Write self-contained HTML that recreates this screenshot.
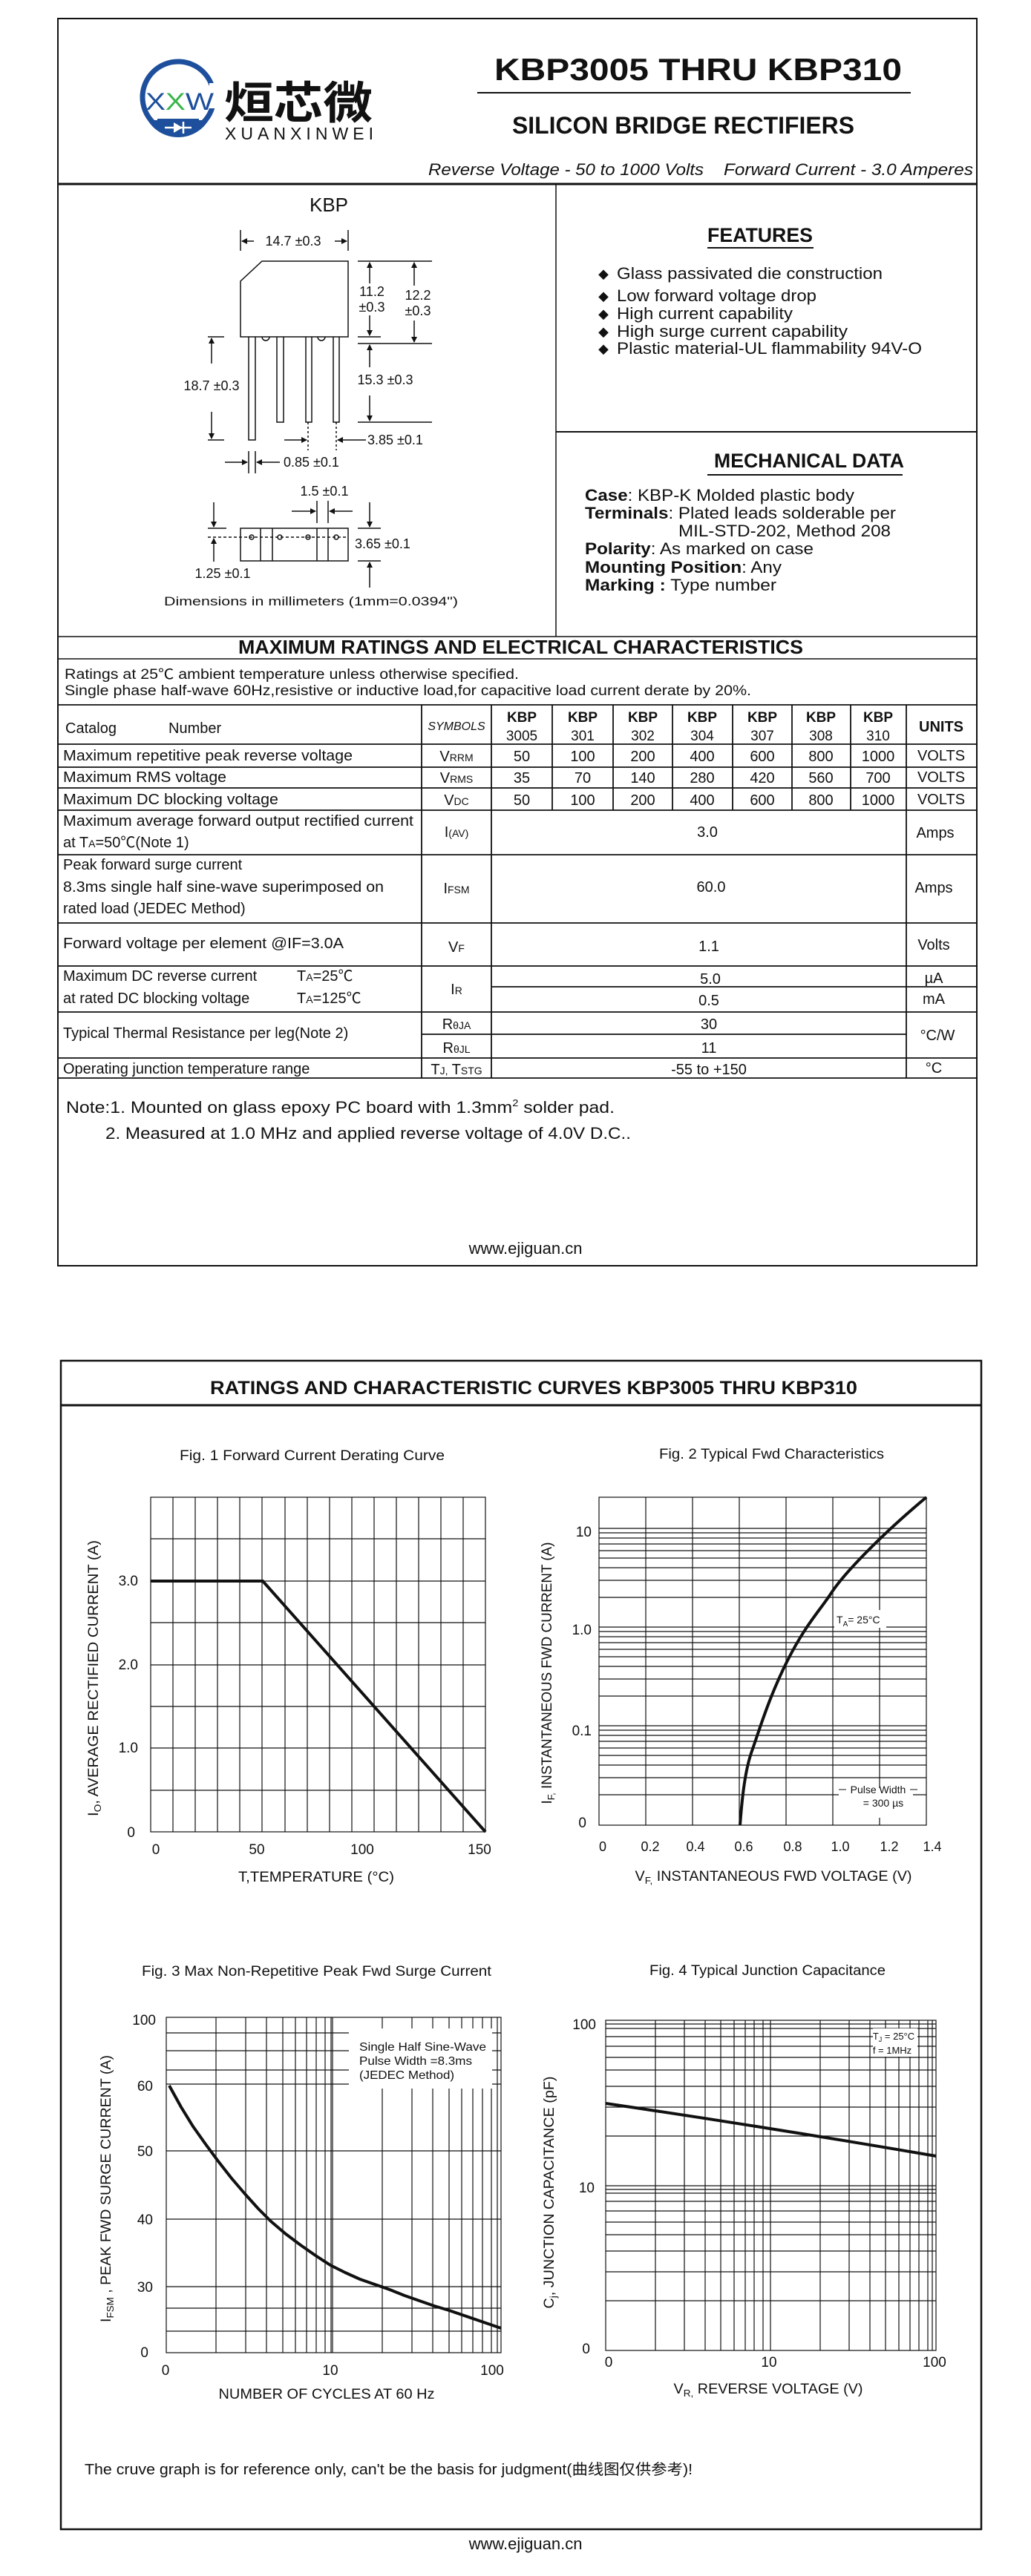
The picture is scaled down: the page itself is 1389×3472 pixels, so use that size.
<!DOCTYPE html>
<html><head><meta charset="utf-8"><style>
html,body{margin:0;padding:0;background:#fff;}
svg{display:block;}
text{font-family:"Liberation Sans","Noto Sans CJK SC",sans-serif;fill:#111;}
</style></head><body>
<svg width="1389" height="3472" viewBox="0 0 1389 3472" xmlns="http://www.w3.org/2000/svg">
<defs>
<marker id="ar" markerWidth="8" markerHeight="8" refX="7" refY="4" orient="auto" markerUnits="userSpaceOnUse"><path d="M0,0 L8,4 L0,8 z" fill="#111"/></marker>
</defs>
<!-- PAGE 1 -->
<rect x="78" y="25" width="1238" height="1681" fill="none" stroke="#111" stroke-width="2"/>
<!-- logo -->
<circle cx="240" cy="131" r="48" fill="none" stroke="#1d4f9c" stroke-width="7"/>
<path d="M199,162 A48,48 0 0 0 281,162 Z" fill="#1d4f9c"/>
<rect x="212" y="160" width="56" height="9" fill="#1d4f9c"/>
<line x1="222" y1="172" x2="258" y2="172" stroke="#fff" stroke-width="2.5"/>
<path d="M234,165 L234,179 L246,172 Z" fill="#fff"/>
<line x1="247" y1="164" x2="247" y2="180" stroke="#fff" stroke-width="2.5"/>
<rect x="282" y="112" width="12" height="34" fill="#fff"/>
<text x="196" y="148" font-size="32" style="fill:#1d4f9c" textLength="92" lengthAdjust="spacingAndGlyphs">X<tspan style="fill:#39b54a">X</tspan>W</text>
<text x="302" y="160" font-size="60" font-weight="bold" style="font-family:'Noto Sans CJK SC',sans-serif" textLength="200" lengthAdjust="spacingAndGlyphs">烜芯微</text>
<text x="303" y="188" font-size="23" textLength="200" lengthAdjust="spacing">XUANXINWEI</text>
<!-- title -->
<text x="666" y="108" font-size="42" font-weight="bold" textLength="549" lengthAdjust="spacingAndGlyphs">KBP3005 THRU KBP310</text>
<line x1="643" y1="125" x2="1227" y2="125" stroke="#111" stroke-width="2"/>
<text x="690" y="180" font-size="32" font-weight="bold" textLength="461" lengthAdjust="spacingAndGlyphs">SILICON BRIDGE RECTIFIERS</text>
<text x="577" y="236" font-size="22" font-style="italic" textLength="371" lengthAdjust="spacingAndGlyphs">Reverse Voltage - 50 to 1000 Volts</text>
<text x="975" y="236" font-size="22" font-style="italic" textLength="336" lengthAdjust="spacingAndGlyphs">Forward Current -  3.0 Amperes</text>
<line x1="78" y1="248" x2="1316" y2="248" stroke="#111" stroke-width="3"/>
<line x1="749" y1="248" x2="749" y2="858" stroke="#111" stroke-width="1.5"/>
<line x1="749" y1="582" x2="1316" y2="582" stroke="#111" stroke-width="2"/>
<line x1="78" y1="858" x2="1316" y2="858" stroke="#111" stroke-width="1.5"/>
<!-- KBP drawing -->
<text x="443" y="285" font-size="26" text-anchor="middle">KBP</text>
<g stroke="#111" stroke-width="1.5" fill="none">
<path d="M353,352 L469,352 L469,454 L324,454 L324,379 Z"/>
<path d="M335,454 V593 H344 V454 M373,454 V569 H382 V454 M412,454 V569 H420 V454 M449,454 V569 H457 V454"/>
<path d="M353,454 A5,5 0 0 0 363,454 M428,454 A5,5 0 0 0 438,454"/>
<line x1="324" y1="310" x2="324" y2="338"/><line x1="469" y1="310" x2="469" y2="338"/>
<line x1="342" y1="325" x2="326" y2="325" marker-end="url(#ar)"/><line x1="451" y1="325" x2="467" y2="325" marker-end="url(#ar)"/>
<line x1="482" y1="352" x2="582" y2="352"/><line x1="482" y1="454" x2="513" y2="454"/><line x1="482" y1="463" x2="582" y2="463"/><line x1="482" y1="569" x2="582" y2="569"/>
<line x1="498" y1="382" x2="498" y2="354" marker-end="url(#ar)"/><line x1="498" y1="425" x2="498" y2="452" marker-end="url(#ar)"/>
<line x1="558" y1="385" x2="558" y2="354" marker-end="url(#ar)"/><line x1="558" y1="432" x2="558" y2="461" marker-end="url(#ar)"/>
<line x1="498" y1="495" x2="498" y2="465" marker-end="url(#ar)"/><line x1="498" y1="533" x2="498" y2="567" marker-end="url(#ar)"/>
<line x1="280" y1="454" x2="302" y2="454"/><line x1="280" y1="593" x2="302" y2="593"/>
<line x1="285" y1="490" x2="285" y2="456" marker-end="url(#ar)"/><line x1="285" y1="555" x2="285" y2="591" marker-end="url(#ar)"/>
<line x1="415" y1="569" x2="415" y2="607" stroke-dasharray="3,3"/><line x1="453" y1="569" x2="453" y2="607" stroke-dasharray="3,3"/>
<line x1="383" y1="593" x2="413" y2="593" marker-end="url(#ar)"/><line x1="493" y1="593" x2="455" y2="593" marker-end="url(#ar)"/>
<line x1="335" y1="608" x2="335" y2="638"/><line x1="344" y1="608" x2="344" y2="638"/>
<line x1="303" y1="623" x2="333" y2="623" marker-end="url(#ar)"/><line x1="377" y1="623" x2="346" y2="623" marker-end="url(#ar)"/>
<line x1="427" y1="675" x2="427" y2="705"/><line x1="442" y1="675" x2="442" y2="705"/>
<line x1="393" y1="689" x2="425" y2="689" marker-end="url(#ar)"/><line x1="475" y1="689" x2="444" y2="689" marker-end="url(#ar)"/>
<rect x="324" y="712" width="145" height="44"/>
<path d="M351,712 V756 M367,712 V756 M427,712 V756 M442,712 V756"/>
<line x1="280" y1="724" x2="469" y2="724" stroke-dasharray="4,3"/>
<circle cx="339" cy="724" r="3"/><circle cx="377" cy="724" r="3"/><circle cx="415" cy="724" r="3"/><circle cx="453" cy="724" r="3"/>
<line x1="482" y1="712" x2="513" y2="712"/><line x1="482" y1="756" x2="513" y2="756"/>
<line x1="498" y1="677" x2="498" y2="710" marker-end="url(#ar)"/><line x1="498" y1="792" x2="498" y2="758" marker-end="url(#ar)"/>
<line x1="280" y1="712" x2="305" y2="712"/>
<line x1="288" y1="677" x2="288" y2="710" marker-end="url(#ar)"/><line x1="288" y1="757" x2="288" y2="726" marker-end="url(#ar)"/>
</g>
<g font-size="18">
<text x="395" y="331" text-anchor="middle">14.7 ±0.3</text>
<text x="501" y="399" text-anchor="middle">11.2</text><text x="501" y="420" text-anchor="middle">±0.3</text>
<text x="563" y="404" text-anchor="middle">12.2</text><text x="563" y="425" text-anchor="middle">±0.3</text>
<text x="285" y="526" text-anchor="middle">18.7 ±0.3</text>
<text x="519" y="518" text-anchor="middle">15.3 ±0.3</text>
<text x="495" y="599">3.85 ±0.1</text>
<text x="382" y="629">0.85 ±0.1</text>
<text x="437" y="668" text-anchor="middle">1.5 ±0.1</text>
<text x="478" y="739">3.65 ±0.1</text>
<text x="300" y="779" text-anchor="middle">1.25 ±0.1</text>
<text x="221" y="816" font-size="17" textLength="396" lengthAdjust="spacingAndGlyphs">Dimensions in millimeters (1mm=0.0394")</text>
</g>
<!-- features -->
<text x="953" y="326" font-size="27" font-weight="bold" textLength="142" lengthAdjust="spacingAndGlyphs">FEATURES</text>
<line x1="953" y1="334" x2="1096" y2="334" stroke="#111" stroke-width="2"/>
<g font-size="22">
<text x="806" y="376" font-size="14">◆</text><text x="831" y="376" textLength="358" lengthAdjust="spacingAndGlyphs">Glass passivated die construction</text>
<text x="806" y="406" font-size="14">◆</text><text x="831" y="406" textLength="269" lengthAdjust="spacingAndGlyphs">Low forward voltage drop</text>
<text x="806" y="430" font-size="14">◆</text><text x="831" y="430" textLength="237" lengthAdjust="spacingAndGlyphs">High current capability</text>
<text x="806" y="454" font-size="14">◆</text><text x="831" y="454" textLength="311" lengthAdjust="spacingAndGlyphs">High  surge current capability</text>
<text x="806" y="477" font-size="14">◆</text><text x="831" y="477" textLength="411" lengthAdjust="spacingAndGlyphs">Plastic material-UL flammability 94V-O</text>
</g>
<text x="962" y="630" font-size="27" font-weight="bold" textLength="256" lengthAdjust="spacingAndGlyphs">MECHANICAL DATA</text>
<line x1="953" y1="640" x2="1216" y2="640" stroke="#111" stroke-width="2"/>
<g font-size="22">
<text x="788" y="675" textLength="363" lengthAdjust="spacingAndGlyphs"><tspan font-weight="bold">Case</tspan>: KBP-K Molded plastic body</text>
<text x="788" y="699" textLength="419" lengthAdjust="spacingAndGlyphs"><tspan font-weight="bold">Terminals</tspan>: Plated leads solderable per</text>
<text x="914" y="723" textLength="286" lengthAdjust="spacingAndGlyphs">MIL-STD-202, Method 208</text>
<text x="788" y="747" textLength="308" lengthAdjust="spacingAndGlyphs"><tspan font-weight="bold">Polarity</tspan>: As marked on case</text>
<text x="788" y="772" textLength="265" lengthAdjust="spacingAndGlyphs"><tspan font-weight="bold">Mounting Position</tspan>: Any</text>
<text x="788" y="796" textLength="258" lengthAdjust="spacingAndGlyphs"><tspan font-weight="bold">Marking :</tspan> Type number</text>
</g>
<!-- ratings table -->
<text x="321" y="881" font-size="26" font-weight="bold" textLength="761" lengthAdjust="spacingAndGlyphs">MAXIMUM RATINGS AND ELECTRICAL CHARACTERISTICS</text>
<line x1="78" y1="888" x2="1316" y2="888" stroke="#111" stroke-width="1.5"/>
<text x="87" y="915" font-size="19" textLength="612" lengthAdjust="spacingAndGlyphs">Ratings at 25℃ ambient temperature unless otherwise specified.</text>
<text x="87" y="937" font-size="19" textLength="925" lengthAdjust="spacingAndGlyphs">Single phase half-wave 60Hz,resistive or inductive load,for capacitive load current derate by 20%.</text>
<g stroke="#111" stroke-width="1.8" fill="none">
<line x1="78" y1="950" x2="1316" y2="950"/>
<line x1="78" y1="1003" x2="1316" y2="1003"/>
<line x1="78" y1="1034" x2="1316" y2="1034"/>
<line x1="78" y1="1062" x2="1316" y2="1062"/>
<line x1="78" y1="1092" x2="1316" y2="1092"/>
<line x1="78" y1="1152" x2="1316" y2="1152"/>
<line x1="78" y1="1244" x2="1316" y2="1244"/>
<line x1="78" y1="1302" x2="1316" y2="1302"/>
<line x1="662" y1="1330" x2="1316" y2="1330"/>
<line x1="78" y1="1364" x2="1316" y2="1364"/>
<line x1="568" y1="1394" x2="1221" y2="1394"/>
<line x1="78" y1="1426" x2="1316" y2="1426"/>
<line x1="78" y1="1453" x2="1316" y2="1453"/>
<line x1="568" y1="950" x2="568" y2="1453"/>
<line x1="662" y1="950" x2="662" y2="1453"/>
<line x1="1221" y1="950" x2="1221" y2="1453"/>
<path d="M744,950 V1092 M826,950 V1092 M906,950 V1092 M987,950 V1092 M1067,950 V1092 M1146,950 V1092"/>
</g>
<g font-size="20">
<text x="88" y="988">Catalog</text><text x="227" y="988">Number</text>
<text x="615" y="984" font-size="16" font-style="italic" text-anchor="middle">SYMBOLS</text>
<g text-anchor="middle" font-size="19">
<text x="703" y="973" font-weight="bold">KBP</text><text x="703" y="998">3005</text>
<text x="785" y="973" font-weight="bold">KBP</text><text x="785" y="998">301</text>
<text x="866" y="973" font-weight="bold">KBP</text><text x="866" y="998">302</text>
<text x="946" y="973" font-weight="bold">KBP</text><text x="946" y="998">304</text>
<text x="1027" y="973" font-weight="bold">KBP</text><text x="1027" y="998">307</text>
<text x="1106" y="973" font-weight="bold">KBP</text><text x="1106" y="998">308</text>
<text x="1183" y="973" font-weight="bold">KBP</text><text x="1183" y="998">310</text>
</g>
<text x="1268" y="986" font-weight="bold" text-anchor="middle">UNITS</text>
<text x="85" y="1025" textLength="390" lengthAdjust="spacingAndGlyphs">Maximum repetitive peak reverse voltage</text>
<text x="85" y="1054" textLength="220" lengthAdjust="spacingAndGlyphs">Maximum RMS voltage</text>
<text x="85" y="1084" textLength="290" lengthAdjust="spacingAndGlyphs">Maximum DC blocking voltage</text>
<text x="615" y="1026" text-anchor="middle">V<tspan font-size="14">RRM</tspan></text>
<text x="615" y="1055" text-anchor="middle">V<tspan font-size="14">RMS</tspan></text>
<text x="615" y="1085" text-anchor="middle">V<tspan font-size="14">DC</tspan></text>
<g text-anchor="middle">
<text x="703" y="1026">50</text><text x="785" y="1026">100</text><text x="866" y="1026">200</text><text x="946" y="1026">400</text><text x="1027" y="1026">600</text><text x="1106" y="1026">800</text><text x="1183" y="1026">1000</text><text x="1268" y="1025">VOLTS</text>
<text x="703" y="1055">35</text><text x="785" y="1055">70</text><text x="866" y="1055">140</text><text x="946" y="1055">280</text><text x="1027" y="1055">420</text><text x="1106" y="1055">560</text><text x="1183" y="1055">700</text><text x="1268" y="1054">VOLTS</text>
<text x="703" y="1085">50</text><text x="785" y="1085">100</text><text x="866" y="1085">200</text><text x="946" y="1085">400</text><text x="1027" y="1085">600</text><text x="1106" y="1085">800</text><text x="1183" y="1085">1000</text><text x="1268" y="1084">VOLTS</text>
</g>
<text x="85" y="1113" textLength="472" lengthAdjust="spacingAndGlyphs">Maximum average forward output rectified current</text>
<text x="85" y="1142">at T<tspan font-size="14">A</tspan>=50℃(Note 1)</text>
<text x="615" y="1128" text-anchor="middle">I<tspan font-size="14">(AV)</tspan></text>
<text x="953" y="1128" text-anchor="middle">3.0</text>
<text x="1260" y="1129" text-anchor="middle">Amps</text>
<text x="85" y="1172">Peak forward surge current</text>
<text x="85" y="1202" textLength="432" lengthAdjust="spacingAndGlyphs">8.3ms single half sine-wave superimposed on</text>
<text x="85" y="1231">rated load (JEDEC Method)</text>
<text x="615" y="1204" text-anchor="middle">I<tspan font-size="14">FSM</tspan></text>
<text x="958" y="1202" text-anchor="middle">60.0</text>
<text x="1258" y="1203" text-anchor="middle">Amps</text>
<text x="85" y="1278" textLength="378" lengthAdjust="spacingAndGlyphs">Forward voltage per element  @IF=3.0A</text>
<text x="615" y="1283" text-anchor="middle">V<tspan font-size="14">F</tspan></text>
<text x="955" y="1282" text-anchor="middle">1.1</text>
<text x="1258" y="1280" text-anchor="middle">Volts</text>
<text x="85" y="1322">Maximum DC reverse current</text>
<text x="400" y="1322">T<tspan font-size="14">A</tspan>=25℃</text>
<text x="85" y="1352">at rated DC blocking voltage</text>
<text x="400" y="1352">T<tspan font-size="14">A</tspan>=125℃</text>
<text x="615" y="1340" text-anchor="middle">I<tspan font-size="14">R</tspan></text>
<text x="957" y="1326" text-anchor="middle">5.0</text>
<text x="955" y="1355" text-anchor="middle">0.5</text>
<text x="1258" y="1325" text-anchor="middle">µA</text>
<text x="1258" y="1353" text-anchor="middle">mA</text>
<text x="85" y="1399">Typical Thermal Resistance per leg(Note 2)</text>
<text x="615" y="1387" text-anchor="middle">R<tspan font-size="14">θJA</tspan></text>
<text x="615" y="1419" text-anchor="middle">R<tspan font-size="14">θJL</tspan></text>
<text x="955" y="1387" text-anchor="middle">30</text>
<text x="955" y="1419" text-anchor="middle">11</text>
<text x="1263" y="1402" text-anchor="middle">°C/W</text>
<text x="85" y="1447">Operating junction temperature range</text>
<text x="615" y="1448" text-anchor="middle">T<tspan font-size="14">J,</tspan> T<tspan font-size="14">STG</tspan></text>
<text x="955" y="1448" text-anchor="middle">-55 to +150</text>
<text x="1258" y="1446" text-anchor="middle">°C</text>
</g>
<text x="89" y="1500" font-size="22" textLength="739" lengthAdjust="spacingAndGlyphs">Note:1. Mounted on  glass epoxy  PC board with 1.3mm<tspan font-size="13" dy="-9">2</tspan><tspan dy="9"> solder pad.</tspan></text>
<text x="142" y="1535" font-size="22" textLength="708" lengthAdjust="spacingAndGlyphs">2. Measured at 1.0 MHz and applied reverse voltage of 4.0V D.C..</text>
<text x="708" y="1690" font-size="22" text-anchor="middle">www.ejiguan.cn</text>

<!-- PAGE 2 -->
<rect x="82" y="1834" width="1240" height="1575" fill="none" stroke="#111" stroke-width="2.5"/>
<text x="283" y="1879" font-size="25" font-weight="bold" textLength="872" lengthAdjust="spacingAndGlyphs">RATINGS AND CHARACTERISTIC CURVES KBP3005 THRU KBP310</text>
<line x1="82" y1="1894" x2="1322" y2="1894" stroke="#111" stroke-width="3"/>

<!-- Fig 1 -->
<text x="242" y="1968" font-size="19" textLength="357" lengthAdjust="spacingAndGlyphs">Fig. 1 Forward Current Derating Curve</text>
<g stroke="#111" stroke-width="1.2">
<rect x="203" y="2018" width="451" height="451" fill="none"/>
<path d="M233,2018V2469 M263,2018V2469 M293,2018V2469 M323,2018V2469 M353,2018V2469 M384,2018V2469 M414,2018V2469 M444,2018V2469 M474,2018V2469 M504,2018V2469 M534,2018V2469 M564,2018V2469 M594,2018V2469 M624,2018V2469"/>
<path d="M203,2074H654 M203,2131H654 M203,2187H654 M203,2244H654 M203,2300H654 M203,2356H654 M203,2413H654"/>
</g>
<polyline points="203,2131 354,2131 654,2469" fill="none" stroke="#111" stroke-width="4"/>
<g font-size="19" text-anchor="end">
<text x="186" y="2137">3.0</text><text x="186" y="2250">2.0</text><text x="186" y="2362">1.0</text><text x="182" y="2476">0</text>
</g>
<g font-size="19" text-anchor="middle">
<text x="210" y="2499">0</text><text x="346" y="2499">50</text><text x="488" y="2499">100</text><text x="646" y="2499">150</text>
<text x="426" y="2536" textLength="210" lengthAdjust="spacingAndGlyphs">T,TEMPERATURE (°C)</text>
</g>
<text transform="translate(132,2262) rotate(-90)" font-size="19" text-anchor="middle" textLength="372" lengthAdjust="spacingAndGlyphs">I<tspan font-size="13" dy="4">O</tspan><tspan dy="-4">, AVERAGE RECTIFIED CURRENT (A)</tspan></text>

<!-- Fig 2 -->
<text x="888" y="1966" font-size="19" textLength="303" lengthAdjust="spacingAndGlyphs">Fig. 2  Typical Fwd Characteristics</text>
<g stroke="#111" stroke-width="1.2">
<rect x="807" y="2018" width="441" height="442" fill="none"/>
<path d="M870,2018V2460 M933,2018V2460 M996,2018V2460 M1059,2018V2460 M1122,2018V2460 M1185,2018V2460"/>
<path d="M807,2419H1248 M807,2396H1248 M807,2379H1248 M807,2366H1248 M807,2356H1248 M807,2347H1248 M807,2339H1248 M807,2332H1248 M807,2326H1248
M807,2286H1248 M807,2263H1248 M807,2246H1248 M807,2233H1248 M807,2223H1248 M807,2214H1248 M807,2206H1248 M807,2199H1248 M807,2193H1248
M807,2153H1248 M807,2130H1248 M807,2113H1248 M807,2100H1248 M807,2090H1248 M807,2081H1248 M807,2073H1248 M807,2066H1248 M807,2060H1248"/>
</g>
<rect x="1124" y="2170" width="70" height="24" fill="#fff"/>
<rect x="1130" y="2410" width="100" height="40" fill="#fff"/>
<path d="M997,2460 C1000,2420 1004,2385 1013,2360 S1035,2290 1060,2240 S1105,2170 1120,2147 S1180,2075 1248,2018" fill="none" stroke="#111" stroke-width="4"/>
<text x="1127" y="2188" font-size="14">T<tspan font-size="10" dy="4">A</tspan><tspan dy="-4">=  25°C</tspan></text>
<text x="1183" y="2417" font-size="14" text-anchor="middle">Pulse Width</text>
<text x="1190" y="2435" font-size="14" text-anchor="middle">=  300 µs</text>
<line x1="1130" y1="2412" x2="1140" y2="2412" stroke="#111"/><line x1="1226" y1="2412" x2="1236" y2="2412" stroke="#111"/>
<g font-size="19" text-anchor="end">
<text x="797" y="2071">10</text><text x="797" y="2203">1.0</text><text x="797" y="2339">0.1</text><text x="790" y="2463">0</text>
</g>
<g font-size="18" text-anchor="middle">
<text x="812" y="2495">0</text><text x="876" y="2495">0.2</text><text x="937" y="2495">0.4</text><text x="1002" y="2495">0.6</text><text x="1068" y="2495">0.8</text><text x="1132" y="2495">1.0</text><text x="1198" y="2495">1.2</text><text x="1256" y="2495">1.4</text>
</g>
<text x="1042" y="2535" font-size="19" text-anchor="middle" textLength="373" lengthAdjust="spacingAndGlyphs">V<tspan font-size="13" dy="4">F,</tspan><tspan dy="-4"> INSTANTANEOUS FWD VOLTAGE (V)</tspan></text>
<text transform="translate(743,2255) rotate(-90)" font-size="19" text-anchor="middle" textLength="353" lengthAdjust="spacingAndGlyphs">I<tspan font-size="13" dy="4">F,</tspan><tspan dy="-4"> INSTANTANEOUS FWD CURRENT (A)</tspan></text>

<!-- Fig 3 -->
<text x="191" y="2663" font-size="19" textLength="471" lengthAdjust="spacingAndGlyphs">Fig. 3  Max Non-Repetitive Peak Fwd Surge Current</text>
<g stroke="#111" stroke-width="1.2">
<rect x="224" y="2719" width="451" height="452" fill="none"/>
<path d="M291,2719V3171 M331,2719V3171 M359,2719V3171 M381,2719V3171 M398,2719V3171 M413,2719V3171 M426,2719V3171 M438,2719V3171 M448,2719V3171 M446,2719V3171
M515,2719V3171 M555,2719V3171 M583,2719V3171 M605,2719V3171 M622,2719V3171 M637,2719V3171 M650,2719V3171 M662,2719V3171 M670,2719V3171"/>
<path d="M224,2740H675 M224,2764H675 M224,2790H675 M224,2809H675 M224,2899H675 M224,2991H675 M224,3082H675 M224,3111H675 M224,3142H675"/>
</g>
<rect x="470" y="2734" width="193" height="81" fill="#fff"/>
<text x="484" y="2764" font-size="16" textLength="171" lengthAdjust="spacingAndGlyphs">Single Half Sine-Wave</text>
<text x="484" y="2783" font-size="16" textLength="152" lengthAdjust="spacingAndGlyphs">Pulse Width =8.3ms</text>
<text x="484" y="2802" font-size="16" textLength="128" lengthAdjust="spacingAndGlyphs">(JEDEC Method)</text>
<polyline points="228,2811 244,2840 260,2866 277,2890 294,2913 312,2936 330,2957 348,2977 365,2994 385,3011 405,3026 425,3040 445,3053 465,3063 485,3072 505,3079 525,3086 545,3094 565,3101 585,3108 605,3114 640,3126 675,3138" fill="none" stroke="#111" stroke-width="4" stroke-linejoin="round"/>
<g font-size="19" text-anchor="end">
<text x="210" y="2729">100</text><text x="206" y="2818">60</text><text x="206" y="2906">50</text><text x="206" y="2998">40</text><text x="206" y="3089">30</text><text x="200" y="3177">0</text>
</g>
<g font-size="19" text-anchor="middle">
<text x="223" y="3201">0</text><text x="445" y="3201">10</text><text x="663" y="3201">100</text>
<text x="440" y="3233" textLength="291" lengthAdjust="spacingAndGlyphs">NUMBER OF CYCLES AT 60 Hz</text>
</g>
<text transform="translate(149,2950) rotate(-90)" font-size="19" text-anchor="middle" textLength="360" lengthAdjust="spacingAndGlyphs">I<tspan font-size="13" dy="4">FSM</tspan><tspan dy="-4"> ,   PEAK FWD SURGE CURRENT (A)</tspan></text>

<!-- Fig 4 -->
<text x="875" y="2662" font-size="19" textLength="318" lengthAdjust="spacingAndGlyphs">Fig. 4  Typical Junction Capacitance</text>
<g stroke="#111" stroke-width="1.2">
<rect x="816" y="2723" width="445" height="445" fill="none"/>
<path d="M883,2723V3168 M922,2723V3168 M950,2723V3168 M971,2723V3168 M989,2723V3168 M1004,2723V3168 M1016,2723V3168 M1028,2723V3168 M1038,2723V3168
M1105,2723V3168 M1144,2723V3168 M1172,2723V3168 M1193,2723V3168 M1211,2723V3168 M1226,2723V3168 M1238,2723V3168 M1250,2723V3168 M1256,2723V3168"/>
<path d="M816,2879H1261 M816,2840H1261 M816,2812H1261 M816,2790H1261 M816,2773H1261 M816,2758H1261 M816,2745H1261 M816,2734H1261 M816,2728H1261
M816,2946H1261 M816,2951H1261 M816,3101H1261 M816,3062H1261 M816,3034H1261 M816,3012H1261 M816,2995H1261 M816,2980H1261 M816,2967H1261 M816,2956H1261"/>
</g>
<rect x="1176" y="2734" width="60" height="38" fill="#fff"/>
<text x="1204" y="2749" font-size="13" text-anchor="middle">T<tspan font-size="9" dy="3">J</tspan><tspan dy="-3"> = 25°C</tspan></text>
<text x="1202" y="2768" font-size="13" text-anchor="middle">f = 1MHz</text>
<path d="M816,2835 Q1040,2868 1261,2906" fill="none" stroke="#111" stroke-width="4"/>
<g font-size="19" text-anchor="end">
<text x="803" y="2735">100</text><text x="801" y="2955">10</text><text x="795" y="3172">0</text>
</g>
<g font-size="19" text-anchor="middle">
<text x="820" y="3190">0</text><text x="1036" y="3190">10</text><text x="1259" y="3190">100</text>
<text x="1035" y="3226" textLength="255" lengthAdjust="spacingAndGlyphs">V<tspan font-size="13" dy="4">R,</tspan><tspan dy="-4"> REVERSE VOLTAGE (V)</tspan></text>
</g>
<text transform="translate(746,2955) rotate(-90)" font-size="19" text-anchor="middle" textLength="313" lengthAdjust="spacingAndGlyphs">C<tspan font-size="13" dy="4">j</tspan><tspan dy="-4">,  JUNCTION CAPACITANCE (pF)</tspan></text>

<text x="114" y="3335" font-size="20" textLength="819" lengthAdjust="spacingAndGlyphs">The cruve graph is for reference only, can't be the basis for judgment(曲线图仅供参考)!</text>
<text x="708" y="3436" font-size="22" text-anchor="middle">www.ejiguan.cn</text>
</svg>
</body></html>
